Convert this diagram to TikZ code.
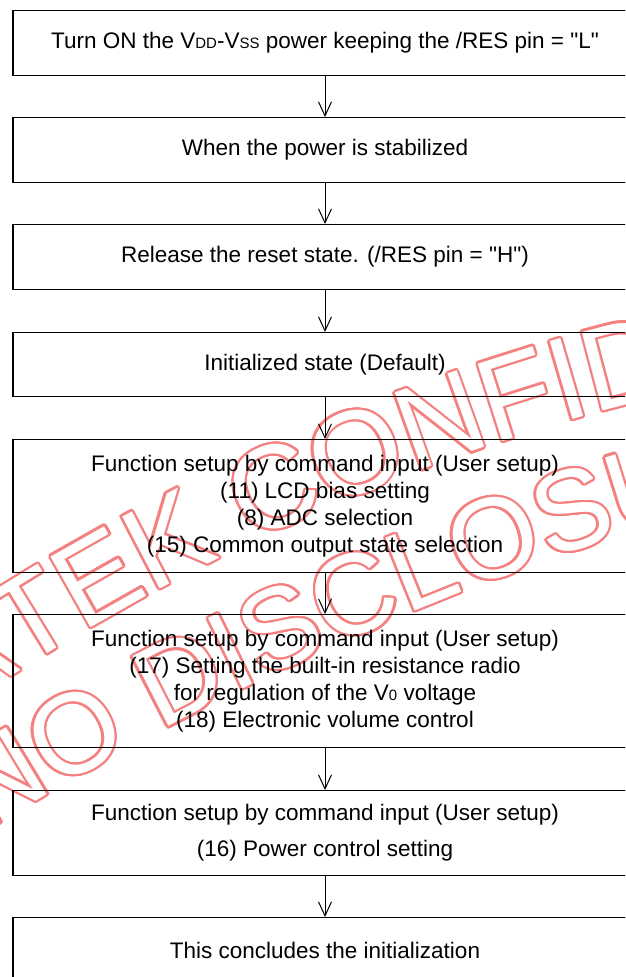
\documentclass[tikz,border=0pt]{standalone}
\usepackage{fontspec}
\setmainfont{Liberation Sans}
\newfontfamily\wmfont{Liberation Sans}
\usetikzlibrary{arrows.meta}
\definecolor{wmred}{RGB}{244,128,128}
\newcommand\sm[1]{{\fontsize{15}{15}\selectfont #1}}
\newcommand\qq{\textquotedbl}
\newcommand\wmtext[1]{%
  \foreach \a in {0,20,...,340}{%
    \pgfmathsetmacro\wmdx{2.3*cos(\a)}\pgfmathsetmacro\wmdy{2.3*sin(\a)}%
    \rlap{\hspace*{\wmdx pt}\raisebox{\wmdy pt}{\color{wmred}#1}}}%
  {\color{white}#1}}
\newcommand\wmarc[6]{% cx, cy, R, start angle, font size, list
  \begingroup
  \wmfont\fontsize{#5}{#5}\selectfont
  \xdef\wmphi{#4}%
  \foreach \ch in {#6}{%
    \pgfmathsetmacro\wmw{width("\ch")}%
    \pgfmathsetmacro\wmmid{\wmphi-(\wmw/2)/#3*180/pi}%
    \node[wmletter,font={\wmfont\fontsize{#5}{#5}\selectfont},rotate=\wmmid-90]
      at ({#1+#3*cos(\wmmid)},{#2+#3*sin(\wmmid)}) {\wmtext{\ch}};
    \pgfmathsetmacro\wmnext{\wmphi-\wmw/#3*180/pi}%
    \global\let\wmphi\wmnext
  }%
  \endgroup
}
\tikzset{
  box/.style={draw=black, line width=1.3pt, minimum width=624pt, inner sep=0pt,
    align=center, anchor=north, font=\fontsize{22.5}{27}\selectfont},
  conn/.style={line width=1pt, -{Straight Barb[length=14pt,width=13pt,line width=1pt]}},
  wmletter/.style={inner sep=0pt, outer sep=0pt, anchor=base},
}
\begin{document}
\begin{tikzpicture}[x=1pt,y=1pt]
\useasboundingbox (0,0) rectangle (625,-977);
\clip (0,0) rectangle (625,-977);
\wmarc{1183.2}{-2495.4}{2163.8}{131.33}{118}{N,O,V,A,T,E,K,~,C,O,N,F,I,D,E,N,T,I,A,L}
\wmarc{1525.5}{-3298.9}{2908.2}{121.99}{114}{N,O,~,D,I,S,C,L,O,S,U,R,E}
\node[box, minimum height=65pt] (b1) at (325,-10) {Turn ON the V\sm{DD}-V\sm{SS} power keeping the /RES pin = \qq L\qq};
\node[box, minimum height=65pt] (b2) at (325,-117) {When the power is stabilized};
\node[box, minimum height=65pt] (b3) at (325,-224) {Release the reset state. (/RES pin = \qq H\qq)};
\node[box, minimum height=64pt] (b4) at (325,-332) {Initialized state (Default)};
\node[box, minimum height=133pt] (b5) at (325,-439) {Function setup by command input (User setup)\\(11) LCD bias setting\\(8) ADC selection\\(15) Common output state selection};
\node[box, minimum height=133pt] (b6) at (325,-614) {Function setup by command input (User setup)\\(17) Setting the built-in resistance radio\\for regulation of the V\sm{0} voltage\\(18) Electronic volume control};
\node[box, minimum height=85pt] (b7) at (325,-790) {Function setup by command input (User setup)\\[9pt](16) Power control setting};
\node[box, minimum height=65pt] (b8) at (325,-917) {This concludes the initialization};
\draw[conn] (b1.south) -- (b2.north);
\draw[conn] (b2.south) -- (b3.north);
\draw[conn] (b3.south) -- (b4.north);
\draw[conn] (b4.south) -- (b5.north);
\draw[conn] (b5.south) -- (b6.north);
\draw[conn] (b6.south) -- (b7.north);
\draw[conn] (b7.south) -- (b8.north);
\end{tikzpicture}
\end{document}
